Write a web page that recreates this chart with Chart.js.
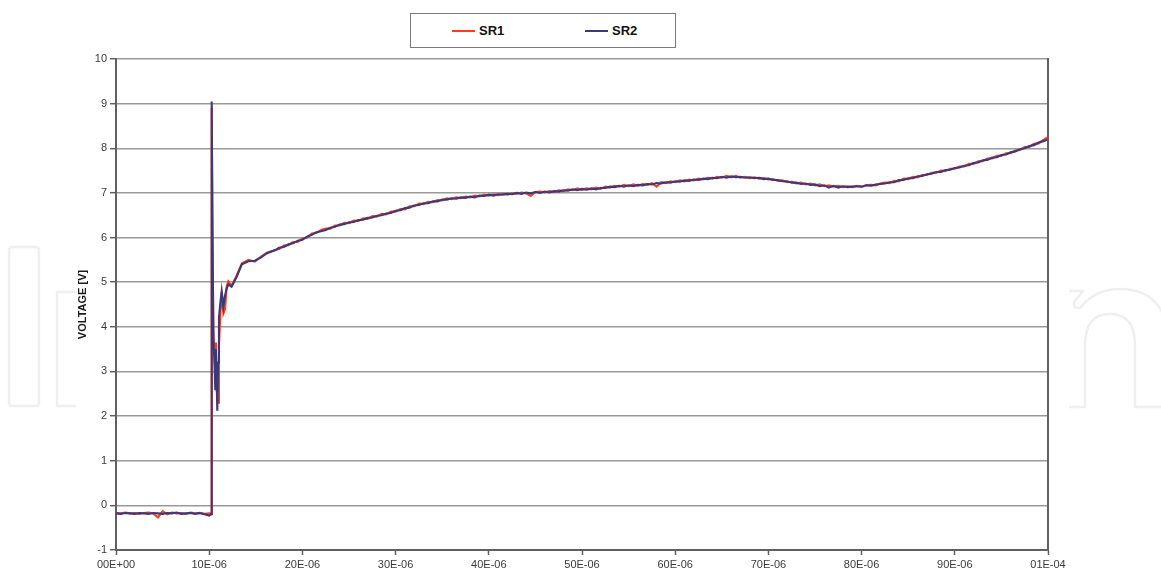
<!DOCTYPE html>
<html>
<head>
<meta charset="utf-8">
<script src="https://cdn.jsdelivr.net/npm/chart.js@4.4.1/dist/chart.umd.min.js"></script>
<style>
  html, body { margin: 0; padding: 0; background: #ffffff; }
  #wrap { position: relative; width: 1161px; height: 571px; overflow: hidden; }
  #chart { position: absolute; left: 0; top: 0; }
  #legend { position: absolute; left: 410px; top: 13px; width: 264px; height: 33px;
            border: 1px solid #7a7a7a; background: #ffffff; box-sizing: content-box; }
  .item { position: absolute; top: 0; height: 33px; display: flex; align-items: center;
          font: bold 13px "Liberation Sans", Arial, sans-serif; color: #111; }
  .swatch { display: inline-block; width: 23px; height: 2px; margin-right: 4px; }
</style>
</head>
<body>
<div id="wrap">
  <canvas id="chart" width="1161" height="571"></canvas>
  <div id="legend"></div>
</div>
<script>
// ---------------- DATA (time in microseconds, voltage in V) ----------------
const seriesNames = ['SR1', 'SR2'];
const xTickLabels = ['00E+00','10E-06','20E-06','30E-06','40E-06','50E-06','60E-06','70E-06','80E-06','90E-06','01E-04'];

const preT   = [0,0.5,1,1.5,2,2.5,3,3.5,4,4.5,5,5.5,6,6.5,7,7.5,8,8.5,9,9.5,10];
const preSR1 = [-0.17,-0.18,-0.16,-0.18,-0.17,-0.19,-0.17,-0.16,-0.18,-0.27,-0.13,-0.2,-0.16,-0.18,-0.17,-0.19,-0.16,-0.18,-0.17,-0.19,-0.18];
const preSR2 = [-0.18,-0.19,-0.17,-0.18,-0.19,-0.17,-0.18,-0.19,-0.17,-0.18,-0.19,-0.17,-0.18,-0.16,-0.19,-0.18,-0.17,-0.19,-0.17,-0.2,-0.23];

const spikeT   = [10.2,10.27,10.35,10.45,10.55,10.65,10.72,10.8,10.87,10.95,11.05,11.2,11.34,11.52,11.7,11.87,12.05,12.4,12.95,13.5,14.2,14.9,15.6,16.2,17.1];
const spikeSR1 = [-0.19,8.9,6.0,3.9,3.4,3.0,3.65,2.6,2.45,2.3,3.6,4.3,4.78,4.3,4.4,4.9,5.02,4.92,5.15,5.42,5.5,5.46,5.58,5.66,5.72];
const spikeSR2 = [-0.2,9.05,6.2,3.7,3.3,2.6,3.5,2.8,2.12,3.2,4.2,4.55,4.8,4.45,4.7,4.85,4.95,4.9,5.12,5.4,5.47,5.48,5.56,5.65,5.72];

const mainT = [
  17.5,18,18.5,19,19.5,20,20.5,21,21.5,22,
  22.5,23,23.5,24,24.5,25,25.5,26,26.5,27,
  27.5,28,28.5,29,29.5,30,30.5,31,31.5,32,
  32.5,33,33.5,34,34.5,35,35.5,36,36.5,37,
  37.5,38,38.5,39,39.5,40,40.5,41,41.5,42,
  42.5,43,43.5,44,44.5,45,45.5,46,46.5,47,
  47.5,48,48.5,49,49.5,50,50.5,51,51.5,52,
  52.5,53,53.5,54,54.5,55,55.5,56,56.5,57,
  57.5,58,58.5,59,59.5,60,60.5,61,61.5,62,
  62.5,63,63.5,64,64.5,65,65.5,66,66.5,67,
  67.5,68,68.5,69,69.5,70,70.5,71,71.5,72,
  72.5,73,73.5,74,74.5,75,75.5,76,76.5,77,
  77.5,78,78.5,79,79.5,80,80.5,81,81.5,82,
  82.5,83,83.5,84,84.5,85,85.5,86,86.5,87,
  87.5,88,88.5,89,89.5,90,90.5,91,91.5,92,
  92.5,93,93.5,94,94.5,95,95.5,96,96.5,97,
  97.5,98,98.5,99,99.5,100
];
const mainSR1 = [
  5.74,5.82,5.83,5.9,5.9,5.98,6.0,6.09,6.1,6.17,
  6.2,6.2,6.27,6.27,6.33,6.32,6.38,6.37,6.43,6.42,
  6.48,6.47,6.53,6.52,6.58,6.58,6.64,6.63,6.7,6.7,
  6.76,6.75,6.8,6.79,6.84,6.83,6.88,6.86,6.9,6.88,
  6.92,6.9,6.94,6.92,6.96,6.94,6.97,6.95,6.98,6.96,
  6.99,6.98,7.01,6.99,6.93,7.02,7.03,7.01,7.04,7.02,
  7.06,7.04,7.08,7.06,7.1,7.07,7.1,7.08,7.12,7.09,
  7.14,7.12,7.16,7.14,7.18,7.15,7.19,7.16,7.2,7.18,
  7.22,7.14,7.24,7.22,7.26,7.24,7.28,7.26,7.3,7.28,
  7.32,7.3,7.34,7.32,7.36,7.34,7.38,7.35,7.38,7.34,
  7.36,7.33,7.35,7.32,7.33,7.3,7.31,7.27,7.28,7.24,
  7.25,7.21,7.23,7.19,7.21,7.17,7.19,7.15,7.17,7.14,
  7.16,7.13,7.15,7.13,7.16,7.14,7.17,7.18,7.17,7.21,
  7.23,7.22,7.27,7.26,7.32,7.31,7.36,7.35,7.4,7.4,
  7.45,7.45,7.5,7.49,7.54,7.54,7.59,7.59,7.65,7.65,
  7.71,7.71,7.77,7.77,7.83,7.83,7.89,7.89,7.95,7.96,
  8.03,8.03,8.1,8.11,8.19,8.25
];
const mainSR2 = [
  5.77,5.79,5.85,5.87,5.93,5.95,6.02,6.06,6.12,6.14,
  6.17,6.22,6.24,6.29,6.3,6.34,6.35,6.39,6.4,6.44,
  6.45,6.49,6.5,6.54,6.55,6.6,6.61,6.66,6.67,6.72,
  6.73,6.77,6.77,6.81,6.81,6.85,6.85,6.88,6.87,6.9,
  6.89,6.92,6.9,6.94,6.93,6.96,6.94,6.97,6.96,6.98,
  6.97,7.0,6.98,7.01,6.99,7.02,7.0,7.03,7.01,7.04,
  7.03,7.06,7.05,7.08,7.06,7.09,7.07,7.1,7.08,7.11,
  7.11,7.14,7.13,7.16,7.14,7.17,7.15,7.18,7.17,7.2,
  7.19,7.22,7.21,7.24,7.23,7.26,7.25,7.28,7.27,7.3,
  7.29,7.32,7.31,7.34,7.33,7.36,7.34,7.37,7.35,7.36,
  7.34,7.35,7.33,7.34,7.31,7.32,7.29,7.29,7.26,7.26,
  7.23,7.23,7.2,7.21,7.18,7.19,7.15,7.17,7.12,7.16,
  7.12,7.15,7.13,7.14,7.15,7.14,7.17,7.16,7.19,7.2,
  7.21,7.24,7.24,7.29,7.29,7.33,7.33,7.37,7.38,7.42,
  7.43,7.47,7.47,7.51,7.52,7.56,7.57,7.61,7.62,7.67,
  7.68,7.73,7.74,7.79,7.8,7.85,7.86,7.91,7.93,7.98,
  8.0,8.05,8.07,8.13,8.16,8.2
];

// ---------------- BUILD ----------------
const times = preT.concat(spikeT, mainT);
const sr1 = preSR1.concat(spikeSR1, mainSR1);
const sr2 = preSR2.concat(spikeSR2, mainSR2);
const toXY = (vals) => times.map((t, i) => ({ x: t, y: vals[i] }));

const colors = ['#ff3c1e', '#3b3978'];

// faint background watermark + white chart sheet
const backdrop = {
  id: 'backdrop',
  beforeDraw(chart) {
    const c = chart.ctx;
    c.save();
    c.strokeStyle = '#efefef';
    c.lineWidth = 2.5;
    c.lineJoin = 'round';
    c.beginPath();
    c.moveTo(12, 247); c.lineTo(36, 247); c.quadraticCurveTo(39, 247, 39, 250);
    c.lineTo(39, 403); c.quadraticCurveTo(39, 406, 36, 406);
    c.lineTo(12, 406); c.quadraticCurveTo(9, 406, 9, 403);
    c.lineTo(9, 250); c.quadraticCurveTo(9, 247, 12, 247);
    c.stroke();
    c.beginPath();
    c.moveTo(76, 292); c.lineTo(57, 292); c.lineTo(57, 406); c.lineTo(76, 406);
    c.stroke();
    c.beginPath();
    c.moveTo(1069, 407); c.lineTo(1085, 407); c.lineTo(1085, 345);
    c.quadraticCurveTo(1085, 314, 1110, 314);
    c.quadraticCurveTo(1135, 314, 1135, 345);
    c.lineTo(1135, 407); c.lineTo(1162, 407);
    c.stroke();
    c.beginPath();
    c.moveTo(1069, 291); c.lineTo(1083, 291); c.lineTo(1074, 302);
    c.quadraticCurveTo(1073, 309, 1080, 308);
    c.quadraticCurveTo(1095, 289, 1120, 289);
    c.quadraticCurveTo(1150, 289, 1162, 312);
    c.stroke();
    c.fillStyle = '#ffffff';
    c.fillRect(77, 0, 992, 571);
    c.restore();
  },
  afterDatasetsDraw(chart) {
    const a = chart.chartArea, c = chart.ctx;
    c.save();
    c.strokeStyle = '#606060';
    c.lineWidth = 2;
    c.beginPath();
    c.moveTo(a.right, a.top - 1);
    c.lineTo(a.right, a.bottom);
    c.stroke();
    c.restore();
  }
};

const fontFam = '"Liberation Sans", Arial, sans-serif';

const chart = new Chart(document.getElementById('chart'), {
  type: 'line',
  data: {
    datasets: [
      { label: seriesNames[0], data: toXY(sr1), borderColor: colors[0], backgroundColor: colors[0],
        borderWidth: 2.1, pointRadius: 0, tension: 0, order: 2 },
      { label: seriesNames[1], data: toXY(sr2), borderColor: colors[1], backgroundColor: colors[1],
        borderWidth: 2.1, pointRadius: 0, tension: 0, order: 1 }
    ]
  },
  options: {
    responsive: false,
    animation: false,
    devicePixelRatio: 1,
    layout: { padding: { left: 72, right: 113, top: 59, bottom: 0 } },
    plugins: { legend: { display: false }, tooltip: { enabled: false } },
    scales: {
      x: {
        type: 'linear', min: 0, max: 100,
        grid: { drawOnChartArea: false, drawTicks: true, tickLength: 5, tickColor: '#606060', tickWidth: 1.5 },
        border: { color: '#606060', width: 2 },
        ticks: {
          stepSize: 10, autoSkip: false, maxRotation: 0, padding: 3,
          color: '#3a3a3a', font: { family: fontFam, size: 11 },
          callback: (v, i) => xTickLabels[i]
        },
        afterFit: (s) => { s.height = 21; }
      },
      y: {
        min: -1, max: 10,
        grid: { color: '#999999', lineWidth: 1.4, tickLength: 6, tickColor: '#606060', tickWidth: 1.5 },
        border: { color: '#606060', width: 2 },
        ticks: { stepSize: 1, padding: 3, color: '#3a3a3a', font: { family: fontFam, size: 11 } },
        title: { display: true, text: 'VOLTAGE [V]', color: '#1a1a1a',
                 font: { family: fontFam, size: 11, weight: 'bold' }, padding: { top: 4, bottom: 4 } },
        afterFit: (s) => { s.width = 44; }
      }
    }
  },
  plugins: [backdrop]
});

const legend = document.getElementById('legend');
const itemLefts = [41, 174];
chart.data.datasets.forEach((ds, i) => {
  const it = document.createElement('div');
  it.className = 'item';
  it.style.left = itemLefts[i] + 'px';
  const sw = document.createElement('span');
  sw.className = 'swatch';
  sw.style.background = ds.borderColor;
  it.appendChild(sw);
  it.appendChild(document.createTextNode(ds.label));
  legend.appendChild(it);
});
</script>
</body>
</html>
